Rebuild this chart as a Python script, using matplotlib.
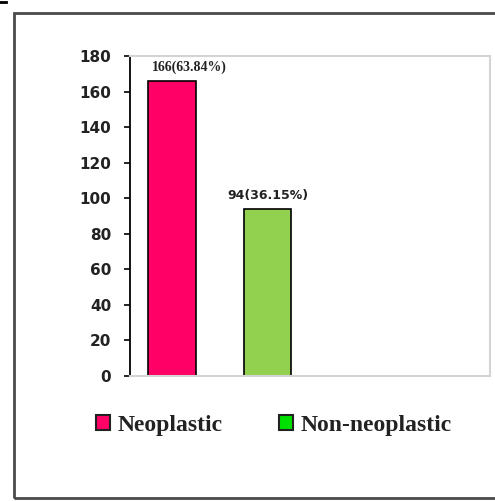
import matplotlib.pyplot as plt
from matplotlib.patches import Patch, Rectangle
from matplotlib.lines import Line2D

# case counts per lesion type
categories = ['Neoplastic', 'Non-neoplastic']
counts = [166, 94]
percents = ['63.84%', '36.15%']
bar_colors = ['#FF0066', '#92D050']
legend_colors = ['#FF0066', '#00E000']
yticks = [0, 20, 40, 60, 80, 100, 120, 140, 160, 180]

fig = plt.figure(figsize=(4.95, 5.01), dpi=100)
ax = fig.add_axes([130 / 495, 1 - 376 / 501, 360 / 495, 320 / 501])

x = list(range(len(categories)))
bars = ax.bar(x, counts, width=0.5, color=bar_colors, edgecolor='black', linewidth=1.2)

# value labels above the bars
label_fonts = [dict(family='Liberation Serif', size=10, weight='bold'),
               dict(family='DejaVu Sans', size=9, weight='bold')]
label_shift = [0.18, 0.0]
for i, b in enumerate(bars):
    ax.annotate('%d(%s)' % (counts[i], percents[i]),
                (b.get_x() + b.get_width() / 2 + label_shift[i], counts[i]),
                xytext=(0, 5), textcoords='offset points',
                ha='center', va='bottom', color='#222222', **label_fonts[i])

ax.set_xlim(-0.44, 3.33)
ax.set_ylim(0, 180)
ax.set_yticks(yticks)
ax.set_yticklabels([str(t) for t in yticks], fontsize=11, fontweight='bold', color='#222222')
ax.tick_params(axis='y', direction='out', length=4.5, width=1.2, pad=9)
ax.set_xticks([])

for s in ['top', 'right', 'bottom']:
    ax.spines[s].set_color('#d4d4d4')
    ax.spines[s].set_linewidth(1.5)
ax.spines['left'].set_color('black')
ax.spines['left'].set_linewidth(1.3)

handles = [Patch(facecolor=legend_colors[i], edgecolor='#222222', linewidth=1.5)
           for i in range(len(categories))]
fig.legend(handles, categories, loc='center left',
           bbox_to_anchor=(96 / 495, 1 - 425 / 501), ncol=2, frameon=False,
           prop=dict(family='Liberation Serif', size=17, weight='bold'),
           handlelength=0.6, handleheight=0.6, handletextpad=0.3,
           columnspacing=2.4, borderpad=0, borderaxespad=0,
           labelcolor='#222222')

# outer frame around the figure
fig.add_artist(Rectangle((14 / 495, 3 / 501), 1.2, 485 / 501, transform=fig.transFigure,
                         fill=False, edgecolor='#4a4a4a', linewidth=2, clip_on=False))
fig.add_artist(Line2D([0, 6 / 495], [1 - 2 / 501, 1 - 2 / 501], transform=fig.transFigure,
                      color='black', linewidth=2))

fig.savefig('out.png', dpi=100)
